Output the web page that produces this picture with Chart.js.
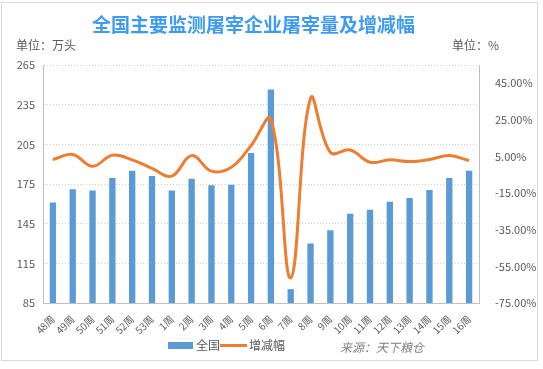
<!DOCTYPE html>
<html lang="zh">
  <head>
    <meta charset="UTF-8" />
    <title>全国主要监测屠宰企业屠宰量及增减幅</title>
    <script src="https://cdn.jsdelivr.net/npm/chart.js"></script>
    <style>
      body {
        margin: 0;
        background: #fff;
        font-family: "Noto Sans CJK SC", "Noto Sans", sans-serif;
      }
      .wrap {
        position: relative;
        width: 543px;
        height: 369px;
      }
      .frame {
        position: absolute;
        left: 1px;
        top: 2px;
        width: 537px;
        height: 359px;
        box-sizing: border-box;
        border: 1px solid #d9d9d9;
      }
      canvas {
        position: absolute;
        left: 0;
        top: 0;
      }
      .txt {
        position: absolute;
        white-space: nowrap;
        color: #595959;
        font-size: 12px;
        line-height: 12px;
      }
      .title {
        position: absolute;
        left: 92px;
        top: 14px;
        font-size: 19px;
        line-height: 19px;
        font-weight: bold;
        color: #3d9cf2;
        white-space: nowrap;
      }
      .legend-box {
        position: absolute;
        left: 168px;
        top: 342px;
        width: 25px;
        height: 7px;
        background: #5b9bd5;
      }
      .legend-line {
        position: absolute;
        left: 220px;
        top: 344px;
        width: 27px;
        height: 3px;
        background: #ed7d31;
      }
    </style>
  </head>
  <body>
    <div class="wrap">
      <div class="frame"></div>
      <canvas id="chart" width="543" height="369"></canvas>
      <div class="title">全国主要监测屠宰企业屠宰量及增减幅</div>
      <div class="txt" style="left: 16px; top: 39px">单位：万头</div>
      <div class="txt" style="left: 452px; top: 39px">单位：%</div>
      <div class="legend-box"></div>
      <div class="txt" style="left: 196px; top: 339px">全国</div>
      <div class="legend-line"></div>
      <div class="txt" style="left: 249px; top: 339px">增减幅</div>
      <div class="txt" style="left: 340px; top: 341px; font-style: italic; color: #7f7f7f">来源：天下粮仓</div>
    </div>

    <script>
      const weeks = [
        "48周", "49周", "50周", "51周", "52周", "53周",
        "1周", "2周", "3周", "4周", "5周", "6周", "7周", "8周",
        "9周", "10周", "11周", "12周", "13周", "14周", "15周", "16周",
      ];
      // 屠宰量（万头）
      const slaughter = [
        161, 171, 170, 179.5, 185, 181, 170, 179, 174, 174.5, 198.5,
        246.5, 95.5, 130, 140, 152.5, 155.5, 161.5, 164.5, 170.5, 179.5, 185,
      ];
      // 增减幅（%）
      const change = [
        3.4, 6.1, -0.3, 5.7, 3.2, -1.5, -5.7, 5.5, -3.0, -0.9, 11.0,
        25.5, -61.3, 36.8, 7.3, 8.6, 1.9, 3.2, 2.3, 3.4, 5.5, 2.8,
      ];
      const leftTicks = { min: 85, max: 265, step: 30 };
      const rightTicks = [-75, -55, -35, -15, 5, 25, 45];
      const rightMax = 55;

      const labelFont = { family: "Noto Sans CJK SC", size: 11 };

      new Chart(document.getElementById("chart"), {
        data: {
          labels: weeks,
          datasets: [
            {
              type: "line",
              label: "增减幅",
              data: change,
              yAxisID: "y1",
              borderColor: "#ed7d31",
              borderWidth: 3,
              pointRadius: 0,
              tension: 0.4,
              order: 0,
            },
            {
              type: "bar",
              label: "全国",
              data: slaughter,
              yAxisID: "y",
              backgroundColor: "#5b9bd5",
              categoryPercentage: 1,
              barPercentage: 0.32,
              order: 1,
            },
          ],
        },
        options: {
          responsive: false,
          animation: false,
          layout: { padding: { top: 65, left: 0, right: 0, bottom: 0 } },
          plugins: {
            legend: { display: false },
            tooltip: { enabled: false },
          },
          scales: {
            x: {
              afterFit: (s) => {
                s.height = 66;
              },
              grid: { display: false },
              border: { display: true, color: "#bfbfbf" },
              ticks: {
                color: "#595959",
                font: { family: "Noto Sans CJK SC", size: 10 },
                minRotation: 45,
                maxRotation: 45,
                autoSkip: false,
                padding: 2,
              },
            },
            y: {
              position: "left",
              min: leftTicks.min,
              max: leftTicks.max,
              afterFit: (s) => {
                s.width = 43;
              },
              ticks: {
                stepSize: leftTicks.step,
                color: "#595959",
                font: labelFont,
                padding: 8,
              },
              grid: { color: "#cfcfcf", drawTicks: false },
              border: { color: "#bfbfbf", dash: [1, 2] },
            },
            y1: {
              position: "right",
              min: rightTicks[0],
              max: rightMax,
              afterFit: (s) => {
                s.width = 64;
              },
              afterBuildTicks: (s) => {
                s.ticks = rightTicks.map((v) => ({ value: v }));
              },
              ticks: {
                color: "#595959",
                font: labelFont,
                padding: 8,
                callback: (v) => v.toFixed(2) + "%",
              },
              grid: { display: false },
              border: { display: true, color: "#bfbfbf" },
            },
          },
        },
      });
    </script>
  </body>
</html>
